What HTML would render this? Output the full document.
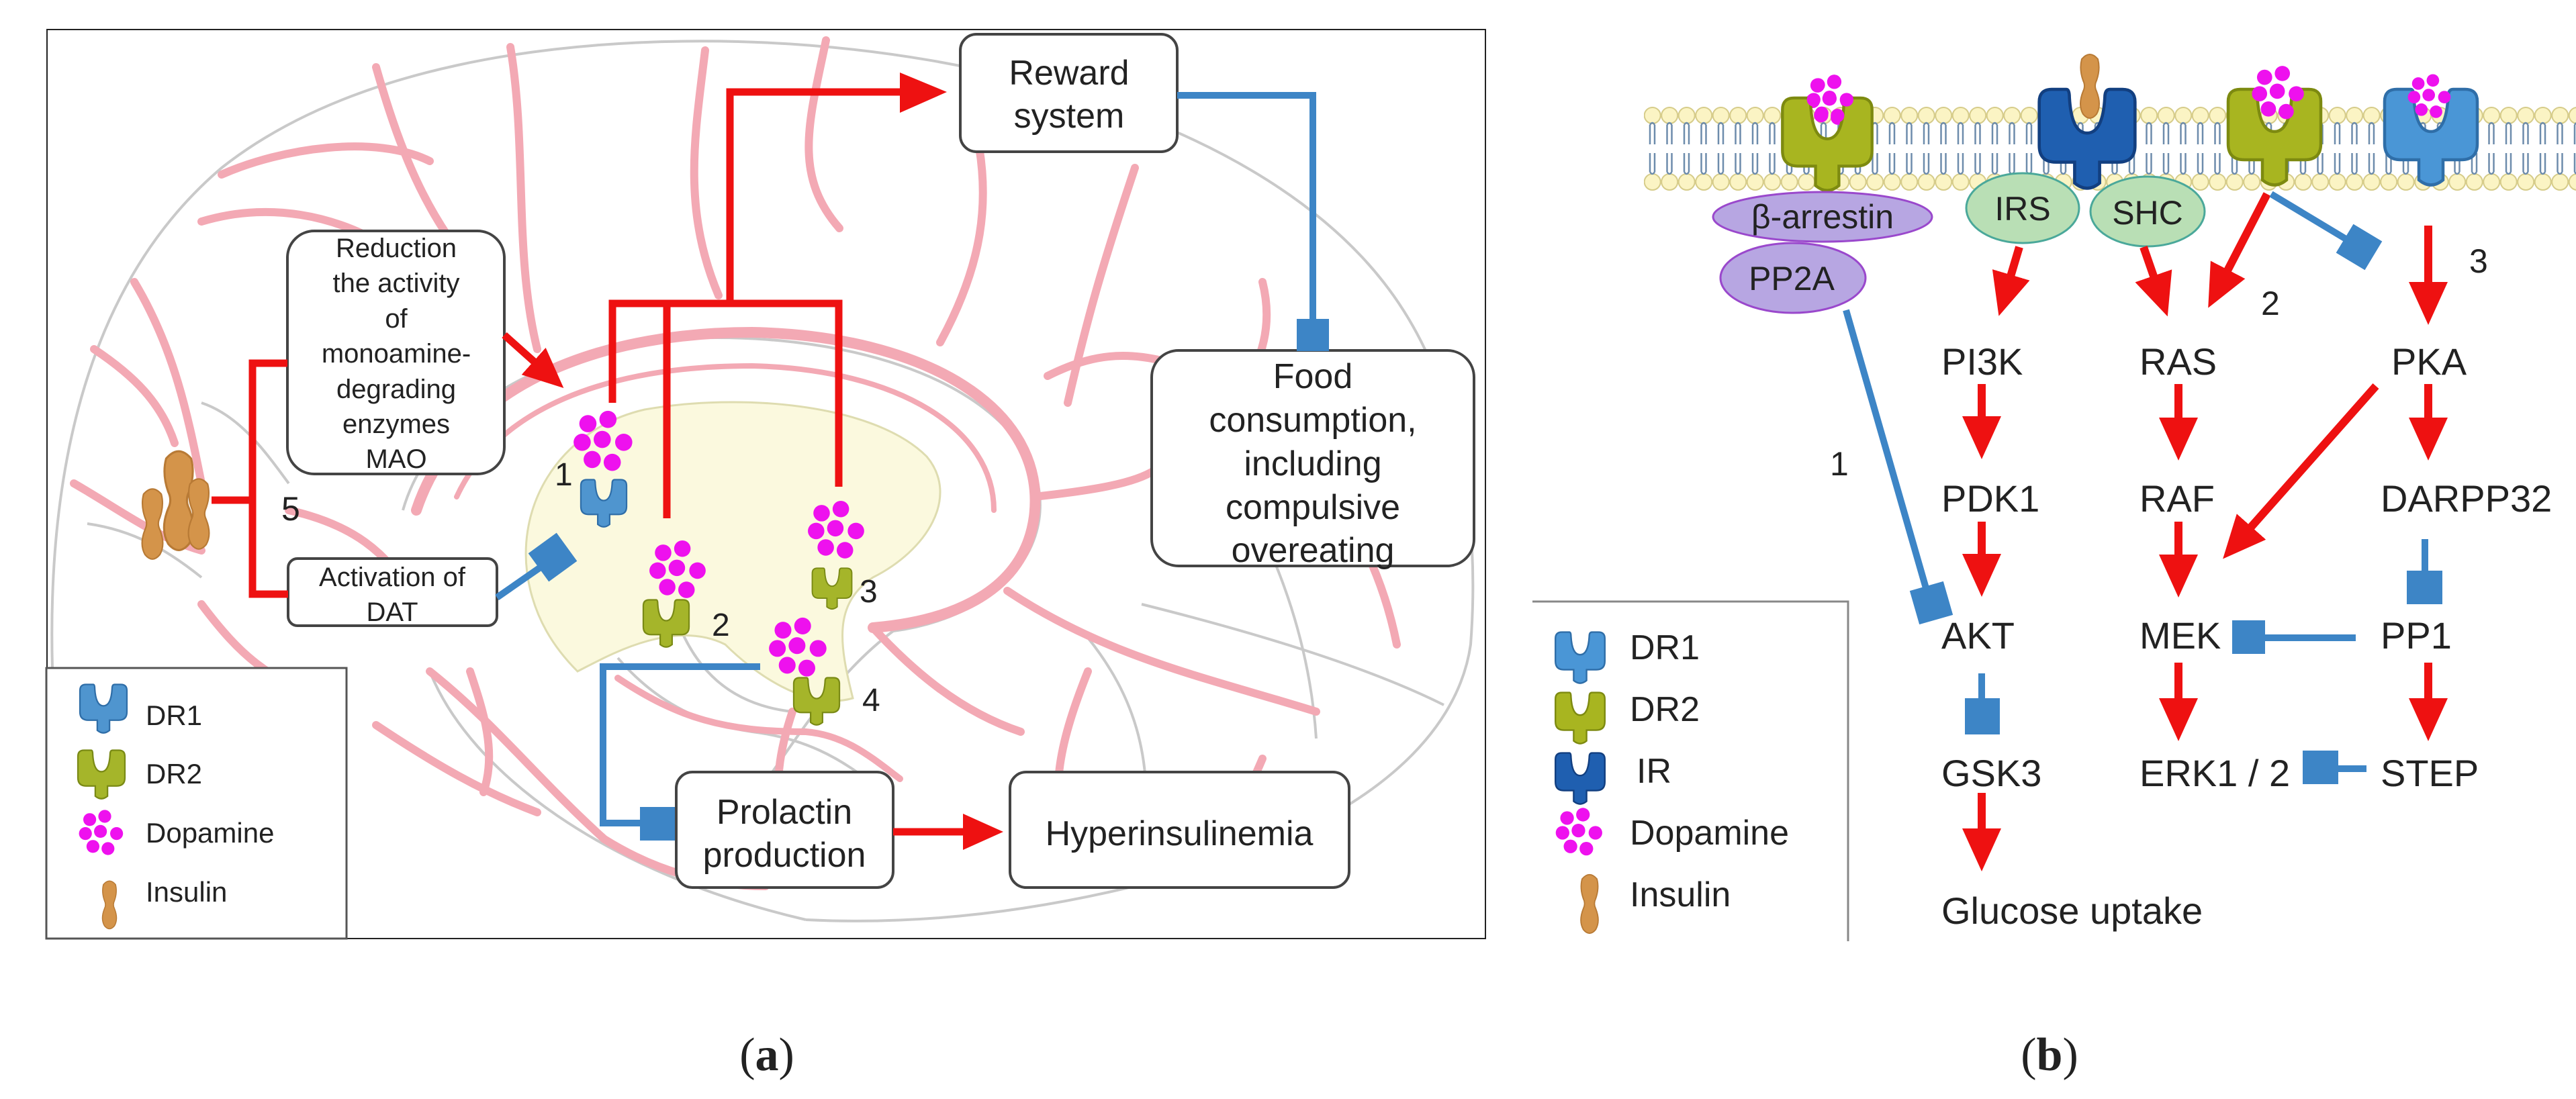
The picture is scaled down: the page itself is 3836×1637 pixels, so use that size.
<!DOCTYPE html>
<html><head><meta charset="utf-8"><style>
html,body{margin:0;padding:0;background:#fff;}
svg{display:block;}
text{font-family:"Liberation Sans",sans-serif;fill:#222;}
</style></head><body>
<svg width="3836" height="1637" viewBox="0 0 3836 1637" xmlns="http://www.w3.org/2000/svg">
<defs>
<symbol id="rec" viewBox="0 0 100 100" overflow="visible">
<path d="M4,14 Q4,2 16,2 L30,2 Q33,2 33,10 Q35,44 50,44 Q65,44 67,10 Q67,2 72,2 L84,2 Q96,2 96,14 L96,56 Q96,72 80,72 L62,72 L62,92 Q50,102 38,92 L38,72 L20,72 Q4,72 4,56 Z" stroke-width="3"/>
</symbol>
<symbol id="dopa" viewBox="0 0 90 90" overflow="visible">
<g fill="#ee11ee"><circle cx="22" cy="16" r="12"/><circle cx="50" cy="10" r="12"/><circle cx="14" cy="42" r="12"/><circle cx="42" cy="38" r="12"/><circle cx="72" cy="42" r="12"/><circle cx="28" cy="66" r="12"/><circle cx="56" cy="70" r="12"/></g>
</symbol>
<symbol id="ins" viewBox="0 0 40 100" overflow="visible">
<path d="M8,10 Q20,-4 32,10 Q36,25 30,42 Q26,50 30,58 Q38,78 30,92 Q20,104 10,92 Q2,78 10,58 Q14,50 10,42 Q4,25 8,10 Z" fill="#d4944a" stroke="#b87a35" stroke-width="2"/>
</symbol>
<marker id="ah" markerUnits="userSpaceOnUse" markerWidth="64" markerHeight="58" refX="34" refY="29" orient="auto"><path d="M0,0 L64,29 L0,58 Z" fill="#ee1111"/></marker>
<marker id="ahs" markerUnits="userSpaceOnUse" markerWidth="60" markerHeight="54" refX="30" refY="27" orient="auto"><path d="M0,0 L60,27 L0,54 Z" fill="#ee1111"/></marker>
<pattern id="memb" x="2448" y="0" width="25.5" height="300" patternUnits="userSpaceOnUse">
<circle cx="12.7" cy="172" r="12" fill="#fbf4c4" stroke="#d6cc8a" stroke-width="2"/>
<circle cx="12.7" cy="271" r="12" fill="#fbf4c4" stroke="#d6cc8a" stroke-width="2"/>
<path d="M9,186 L9,215 M16,186 L16,215 M9,186 Q12.5,180 16,186 M9,228 L9,256 M16,228 L16,256 M9,256 Q12.5,262 16,256" stroke="#6d8cac" stroke-width="2.5" fill="none"/>
</pattern>
<clipPath id="fr"><rect x="70" y="44" width="2142" height="1354"/></clipPath>
</defs>

<!-- ================= PANEL A ================= -->
<rect x="70" y="44" width="2142" height="1354" fill="#fff" stroke="#222" stroke-width="2"/>
<g clip-path="url(#fr)">
<!-- brain outline -->
<g fill="none" stroke="#c9c9c9" stroke-width="4">
<path d="M78,995 C70,700 130,420 330,250 C520,100 820,55 1100,62 C1480,72 1880,190 2060,420 C2170,560 2205,760 2190,960 C2170,1100 2030,1220 1800,1290 C1600,1350 1400,1380 1200,1370"/>
<path d="M640,1000 C700,1150 900,1300 1200,1370"/>
<path d="M600,760 C640,620 800,520 1000,505 C1250,490 1480,560 1540,700 C1580,820 1480,920 1330,940"/>
<path d="M1330,940 C1250,1000 1200,1080 1150,1150"/>
<path d="M1700,900 C1900,950 2050,1000 2150,1050"/>
<path d="M1830,700 C1900,820 1950,950 1960,1100"/>
<path d="M1620,950 C1700,1050 1720,1150 1700,1290"/>
<path d="M560,400 C620,470 640,520 700,560"/>
<path d="M300,600 C360,620 400,680 430,720"/>
<path d="M130,780 C200,790 250,820 300,860"/>
<path d="M920,980 C980,1050 1050,1080 1120,1090 C1200,1100 1250,1130 1290,1160"/>
<path d="M1000,900 C1030,1000 1090,1050 1180,1060"/>
</g>
<!-- ventricle -->
<path d="M790,880 C760,760 830,640 960,610 C1100,585 1300,600 1380,680 C1430,740 1380,820 1300,860 C1240,900 1250,960 1270,1040 C1200,1060 1120,1000 1080,960 C1000,920 900,980 860,1000 C820,960 800,920 790,880 Z" fill="#fbf9de" stroke="#dedcb0" stroke-width="3"/>
<!-- vessels -->
<g fill="none" stroke="#f3a9b4" stroke-width="12" stroke-linecap="round">
<path d="M620,760 C680,580 880,495 1120,495 C1380,500 1560,610 1540,770 C1525,880 1420,925 1300,935" stroke-width="16"/>
<path d="M680,740 C740,610 900,545 1120,545 C1340,550 1480,640 1480,760" stroke-width="8"/>
<path d="M760,70 C785,220 765,380 800,520"/>
<path d="M560,100 C600,240 640,330 720,420"/>
<path d="M1050,75 C1035,200 1015,310 1070,440"/>
<path d="M1230,60 C1205,180 1180,260 1250,340"/>
<path d="M1690,250 C1640,400 1620,470 1590,600"/>
<path d="M1450,180 C1480,300 1460,400 1400,510"/>
<path d="M300,330 C400,300 500,320 580,370"/>
<path d="M330,260 C420,220 560,200 640,240"/>
<path d="M200,420 C260,520 280,620 300,720"/>
<path d="M110,720 C180,760 230,800 300,820"/>
<path d="M140,520 C200,560 240,600 260,660"/>
<path d="M430,760 C520,780 580,820 620,900"/>
<path d="M300,900 C360,980 400,1010 480,1040"/>
<path d="M1540,740 C1630,730 1690,720 1720,700"/>
<path d="M1500,880 C1650,980 1800,1010 1960,1060"/>
<path d="M1800,560 C1700,520 1640,520 1560,560"/>
<path d="M1880,420 C1900,500 1870,560 1820,620"/>
<path d="M1960,700 C2020,780 2060,860 2080,960"/>
<path d="M640,1000 C740,1080 800,1160 900,1250 C980,1300 1060,1320 1140,1320"/>
<path d="M560,1080 C650,1140 720,1180 800,1210"/>
<path d="M700,1000 C720,1060 740,1120 720,1180"/>
<path d="M1300,935 C1360,1000 1430,1060 1520,1090"/>
<path d="M920,1010 C1010,1070 1080,1090 1200,1090 C1260,1095 1300,1130 1340,1160" stroke-width="10"/>
<path d="M1180,1060 C1160,1120 1150,1180 1170,1230"/>
<path d="M1880,1130 C1850,1200 1820,1260 1790,1300"/>
<path d="M1620,1000 C1580,1100 1560,1180 1590,1260"/>
</g>
</g>

<!-- Panel A boxes -->
<g fill="#fff" stroke="#444" stroke-width="4">
<rect x="1430" y="51" width="323" height="175" rx="24"/>
<rect x="1715" y="522" width="480" height="321" rx="40"/>
<rect x="428" y="344" width="323" height="362" rx="40"/>
<rect x="429" y="832" width="311" height="100" rx="14"/>
<rect x="1007" y="1150" width="323" height="172" rx="24"/>
<rect x="1504" y="1150" width="505" height="172" rx="24"/>
</g>
<g font-size="52" text-anchor="middle">
<text x="1592" y="126">Reward</text><text x="1592" y="190">system</text>
<text x="1955" y="578">Food</text><text x="1955" y="643">consumption,</text><text x="1955" y="708">including</text><text x="1955" y="773">compulsive</text><text x="1955" y="837">overeating</text>
<text x="1168" y="1227">Prolactin</text><text x="1168" y="1291">production</text>
<text x="1756" y="1259">Hyperinsulinemia</text>
</g>
<g font-size="40" text-anchor="middle">
<text x="590" y="383">Reduction</text><text x="590" y="435">the activity</text><text x="590" y="488">of</text><text x="590" y="540">monoamine-</text><text x="590" y="593">degrading</text><text x="590" y="645">enzymes</text><text x="590" y="697">MAO</text>
<text x="584" y="873">Activation of</text><text x="584" y="925">DAT</text>
</g>

<!-- red tree -->
<g fill="none" stroke="#ee1111" stroke-width="11">
<path d="M912,600 L912,452 L1249,452 L1249,725"/>
<path d="M993,452 L993,772"/>
<path d="M1087,452 L1087,137 L1345,137"/>
<path d="M428,541 L376,541 L376,885 L429,885"/>
<path d="M315,745 L376,745"/>
<path d="M751,499 L817,558" marker-end="url(#ahs)"/>
<path d="M1330,1239 L1464,1239" marker-end="url(#ahs)"/>
</g>
<path d="M1340,108 L1410,137 L1340,168 Z" fill="#ee1111"/>

<!-- blue inhibitors panel a -->
<g fill="none" stroke="#3d85c6" stroke-width="10">
<path d="M1753,142 L1955,142 L1955,480"/>
<path d="M1132,993 L898,993 L898,1226 L960,1226"/>
<path d="M740,890 L812,840"/>
</g>
<rect x="1931" y="475" width="48" height="48" fill="#3d85c6"/>
<rect x="953" y="1202" width="52" height="50" fill="#3d85c6"/>
<rect x="-26" y="-26" width="52" height="52" fill="#3d85c6" transform="translate(823,830) rotate(-36)"/>

<!-- insulin cluster left -->
<use href="#ins" x="235" y="655" width="62" height="180"/>
<use href="#ins" x="196" y="725" width="62" height="110"/>
<use href="#ins" x="268" y="710" width="56" height="110"/>
<text x="419" y="775" font-size="50">5</text>

<!-- receptors & dopamine panel a -->
<use href="#dopa" x="852" y="614" width="96" height="96"/>
<use href="#rec" x="862" y="712" width="74" height="76" fill="#4f95cf" stroke="#2f6ea8"/>
<text x="826" y="723" font-size="48">1</text>
<use href="#dopa" x="965" y="803" width="92" height="100"/>
<use href="#rec" x="954" y="892" width="76" height="74" fill="#a5b52a" stroke="#7a8a15"/>
<text x="1060" y="947" font-size="48">2</text>
<use href="#dopa" x="1200" y="748" width="94" height="92"/>
<use href="#rec" x="1207" y="840" width="64" height="74" fill="#a5b52a" stroke="#7a8a15"/>
<text x="1280" y="897" font-size="48">3</text>
<use href="#dopa" x="1143" y="919" width="94" height="100"/>
<use href="#rec" x="1178" y="1008" width="76" height="74" fill="#a5b52a" stroke="#7a8a15"/>
<text x="1284" y="1059" font-size="48">4</text>

<!-- legend a -->
<rect x="69" y="995" width="447" height="403" fill="#fff" stroke="#555" stroke-width="3"/>
<use href="#rec" x="116" y="1017" width="76" height="78" fill="#4f95cf" stroke="#2f6ea8"/>
<use href="#rec" x="112" y="1116" width="78" height="76" fill="#a5b52a" stroke="#7a8a15"/>
<use href="#dopa" x="114" y="1208" width="76" height="72"/>
<use href="#ins" x="145" y="1310" width="36" height="75"/>
<g font-size="42"><text x="217" y="1080">DR1</text><text x="217" y="1167">DR2</text><text x="217" y="1255">Dopamine</text><text x="217" y="1343">Insulin</text></g>

<text x="1142" y="1594" font-size="70" text-anchor="middle" font-family="Liberation Serif, serif" style="font-family:'Liberation Serif',serif">(<tspan font-weight="bold">a</tspan>)</text>

<!-- ================= PANEL B ================= -->
<rect x="2448" y="158" width="1388" height="128" fill="url(#memb)"/>
<!-- receptors -->
<use href="#dopa" x="2683" y="113" width="88" height="80"/>
<use href="#rec" x="2636" y="143" width="170" height="145" fill="#a8b520" stroke="#7d8a10"/>
<use href="#dopa" x="2683" y="113" width="88" height="76"/>
<use href="#rec" x="3023" y="130" width="170" height="155" fill="#1f5fb0" stroke="#123f80"/>
<use href="#ins" x="3081" y="78" width="62" height="100"/>
<use href="#rec" x="3302" y="130" width="170" height="150" fill="#a8b520" stroke="#7d8a10"/>
<use href="#dopa" x="3350" y="100" width="88" height="85"/>
<use href="#rec" x="3535" y="130" width="170" height="150" fill="#4a96d6" stroke="#2f6ea8"/>
<use href="#dopa" x="3577" y="112" width="84" height="70"/>
<!-- ellipses -->
<ellipse cx="2714" cy="323" rx="163" ry="37" fill="#b7a6e2" stroke="#9a48cc" stroke-width="3"/>
<ellipse cx="2670" cy="414" rx="108" ry="52" fill="#b7a6e2" stroke="#9a48cc" stroke-width="3"/>
<ellipse cx="3012" cy="310" rx="84" ry="52" fill="#b9dfb5" stroke="#4aa89a" stroke-width="3"/>
<ellipse cx="3198" cy="315" rx="85" ry="52" fill="#b9dfb5" stroke="#4aa89a" stroke-width="3"/>
<g font-size="50" text-anchor="middle"><text x="2714" y="340">β-arrestin</text><text x="2668" y="432">PP2A</text><text x="3012" y="328">IRS</text><text x="3198" y="334">SHC</text></g>

<!-- node labels -->
<g font-size="56">
<text x="2891" y="558">PI3K</text><text x="2891" y="762">PDK1</text><text x="2891" y="966">AKT</text><text x="2891" y="1171">GSK3</text><text x="2891" y="1376">Glucose uptake</text>
<text x="3186" y="558">RAS</text><text x="3186" y="762">RAF</text><text x="3186" y="966">MEK</text><text x="3186" y="1171">ERK1 / 2</text>
<text x="3561" y="558">PKA</text><text x="3545" y="762">DARPP32</text><text x="3545" y="966">PP1</text><text x="3545" y="1171">STEP</text>
</g>
<g font-size="50"><text x="2725" y="708">1</text><text x="3367" y="469">2</text><text x="3677" y="406">3</text></g>

<!-- red arrows panel b -->
<g fill="none" stroke="#ee1111" stroke-width="12">
<path d="M2951,572 L2951,654" marker-end="url(#ah)"/>
<path d="M2951,777 L2951,859" marker-end="url(#ah)"/>
<path d="M2951,1181 L2951,1268" marker-end="url(#ah)"/>
<path d="M3007,368 L2985,442" marker-end="url(#ah)"/>
<path d="M3244,572 L3244,656" marker-end="url(#ah)"/>
<path d="M3244,777 L3244,860" marker-end="url(#ah)"/>
<path d="M3244,987 L3244,1074" marker-end="url(#ah)"/>
<path d="M3192,368 L3218,443" marker-end="url(#ah)"/>
<path d="M3376,289 L3302,432" marker-end="url(#ah)"/>
<path d="M3616,336 L3616,454" marker-end="url(#ah)"/>
<path d="M3616,572 L3616,656" marker-end="url(#ah)"/>
<path d="M3616,987 L3616,1074" marker-end="url(#ah)"/>
<path d="M3538,575 L3330,810" marker-end="url(#ah)"/>
</g>

<!-- blue inhibitors panel b -->
<g fill="none" stroke="#3d85c6" stroke-width="10">
<path d="M2749,462 L2868,876"/>
<path d="M3382,289 L3505,363"/>
<path d="M2951,1003 L2951,1045"/>
<path d="M3611,803 L3611,855"/>
<path d="M3508,950 L3365,950"/>
<path d="M3524,1145 L3475,1145"/>
</g>
<rect x="-26" y="-26" width="52" height="52" fill="#3d85c6" transform="translate(2876,898) rotate(-16)"/>
<rect x="-25" y="-25" width="50" height="50" fill="#3d85c6" transform="translate(3513,368) rotate(31)"/>
<rect x="2926" y="1040" width="52" height="54" fill="#3d85c6"/>
<rect x="3584" y="850" width="53" height="50" fill="#3d85c6"/>
<rect x="3324" y="924" width="49" height="50" fill="#3d85c6"/>
<rect x="3429" y="1118" width="53" height="50" fill="#3d85c6"/>

<!-- legend b -->
<path d="M2282,896 L2752,896 L2752,1402" fill="none" stroke="#888" stroke-width="3"/>
<use href="#rec" x="2311" y="940" width="84" height="80" fill="#4a96d6" stroke="#2f6ea8"/>
<use href="#rec" x="2311" y="1030" width="84" height="80" fill="#a8b520" stroke="#7d8a10"/>
<use href="#rec" x="2311" y="1120" width="84" height="80" fill="#1f5fb0" stroke="#123f80"/>
<use href="#dopa" x="2311" y="1205" width="84" height="76"/>
<use href="#ins" x="2347" y="1300" width="40" height="92"/>
<g font-size="52"><text x="2427" y="982">DR1</text><text x="2427" y="1074">DR2</text><text x="2437" y="1166">IR</text><text x="2427" y="1258">Dopamine</text><text x="2427" y="1350">Insulin</text></g>

<text x="3052" y="1594" font-size="70" text-anchor="middle" style="font-family:'Liberation Serif',serif">(<tspan font-weight="bold">b</tspan>)</text>
</svg>
</body></html>
